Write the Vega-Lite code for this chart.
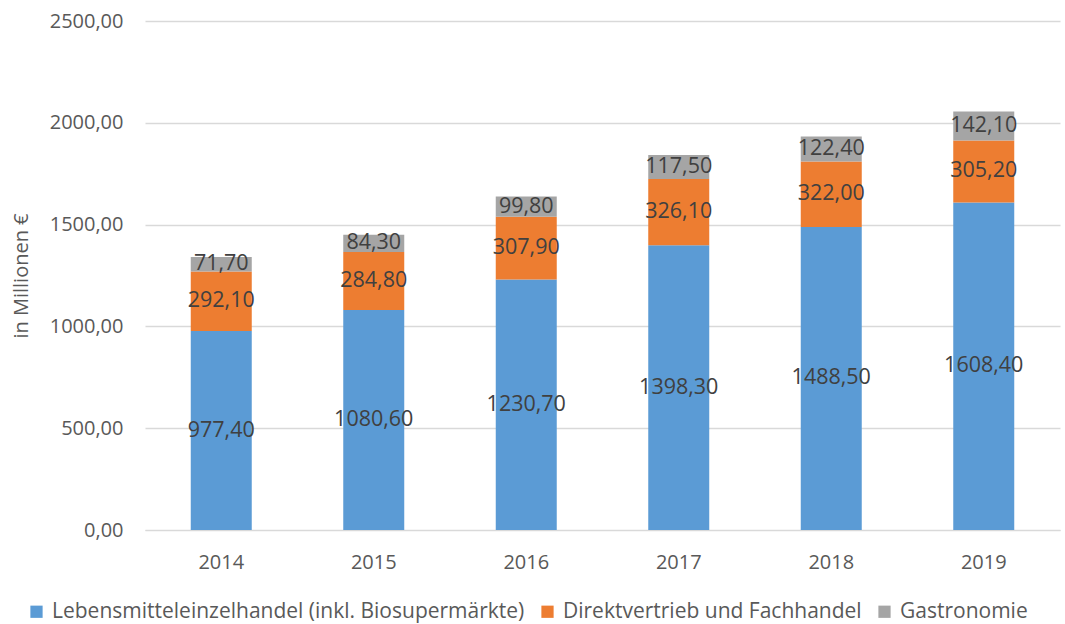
{
  "$schema": "https://vega.github.io/schema/vega-lite/v6.json",
  "width": 915,
  "height": 509,
  "autosize": {"type": "none"},
  "padding": {"left": 145, "top": 21, "right": 5, "bottom": 94},
  "background": "white",
  "config": {
    "locale": {"number": {"decimal": ",", "thousands": ".", "grouping": [3], "currency": ["", " €"]}},
    "font": "Open Sans",
    "view": {"stroke": null}
  },
  "data": {
    "values": [
      {"Jahr": "2014", "Kategorie": "Lebensmitteleinzelhandel (inkl. Biosupermärkte)", "Wert": 977.4},
      {"Jahr": "2014", "Kategorie": "Direktvertrieb und Fachhandel", "Wert": 292.1},
      {"Jahr": "2014", "Kategorie": "Gastronomie", "Wert": 71.7},
      {"Jahr": "2015", "Kategorie": "Lebensmitteleinzelhandel (inkl. Biosupermärkte)", "Wert": 1080.6},
      {"Jahr": "2015", "Kategorie": "Direktvertrieb und Fachhandel", "Wert": 284.8},
      {"Jahr": "2015", "Kategorie": "Gastronomie", "Wert": 84.3},
      {"Jahr": "2016", "Kategorie": "Lebensmitteleinzelhandel (inkl. Biosupermärkte)", "Wert": 1230.7},
      {"Jahr": "2016", "Kategorie": "Direktvertrieb und Fachhandel", "Wert": 307.9},
      {"Jahr": "2016", "Kategorie": "Gastronomie", "Wert": 99.8},
      {"Jahr": "2017", "Kategorie": "Lebensmitteleinzelhandel (inkl. Biosupermärkte)", "Wert": 1398.3},
      {"Jahr": "2017", "Kategorie": "Direktvertrieb und Fachhandel", "Wert": 326.1},
      {"Jahr": "2017", "Kategorie": "Gastronomie", "Wert": 117.5},
      {"Jahr": "2018", "Kategorie": "Lebensmitteleinzelhandel (inkl. Biosupermärkte)", "Wert": 1488.5},
      {"Jahr": "2018", "Kategorie": "Direktvertrieb und Fachhandel", "Wert": 322.0},
      {"Jahr": "2018", "Kategorie": "Gastronomie", "Wert": 122.4},
      {"Jahr": "2019", "Kategorie": "Lebensmitteleinzelhandel (inkl. Biosupermärkte)", "Wert": 1608.4},
      {"Jahr": "2019", "Kategorie": "Direktvertrieb und Fachhandel", "Wert": 305.2},
      {"Jahr": "2019", "Kategorie": "Gastronomie", "Wert": 142.1}
    ]
  },
  "transform": [
    {"stack": "Wert", "groupby": ["Jahr"], "as": ["y0", "y1"]},
    {"calculate": "(datum.y0 + datum.y1) / 2", "as": "mitte"}
  ],
  "encoding": {
    "x": {
      "field": "Jahr", "type": "ordinal",
      "scale": {"paddingInner": 0.6, "paddingOuter": 0.3},
      "axis": {
        "title": null, "labelAngle": 0, "labelFontSize": 20, "labelColor": "#595959",
        "labelPadding": 22, "ticks": false, "domain": true, "domainColor": "#D9D9D9", "grid": false
      }
    }
  },
  "layer": [
    {
      "mark": {"type": "bar"},
      "encoding": {
        "y": {
          "field": "y0", "type": "quantitative",
          "scale": {"domain": [0, 2500], "nice": false},
          "axis": {
            "title": "in Millionen €", "titleFontSize": 20, "titleFontWeight": "normal", "titleColor": "#595959",
            "titlePadding": 18,
            "values": [0, 500, 1000, 1500, 2000, 2500], "format": ".2f",
            "labelFontSize": 20, "labelColor": "#595959", "labelPadding": 22,
            "ticks": false, "domain": false, "gridColor": "#D9D9D9", "gridWidth": 1.3
          }
        },
        "y2": {"field": "y1"},
        "color": {
          "field": "Kategorie", "type": "nominal",
          "scale": {
            "domain": ["Lebensmitteleinzelhandel (inkl. Biosupermärkte)", "Direktvertrieb und Fachhandel", "Gastronomie"],
            "range": ["#5B9BD5", "#ED7D31", "#A5A5A5"]
          },
          "legend": {
            "title": null, "orient": "none", "direction": "horizontal",
            "legendX": -119, "legendY": 580,
            "symbolType": "square", "symbolSize": 150, "symbolStrokeWidth": 0,
            "labelFontSize": 21, "labelColor": "#595959", "labelOffset": 5,
            "columnPadding": 12, "labelLimit": 600
          }
        }
      }
    },
    {
      "mark": {"type": "text", "fontSize": 21.5, "color": "#404040", "baseline": "middle", "align": "center"},
      "encoding": {
        "y": {"field": "mitte", "type": "quantitative", "scale": {"domain": [0, 2500], "nice": false}},
        "text": {"field": "Wert", "type": "quantitative", "format": ".2f"}
      }
    }
  ]
}
